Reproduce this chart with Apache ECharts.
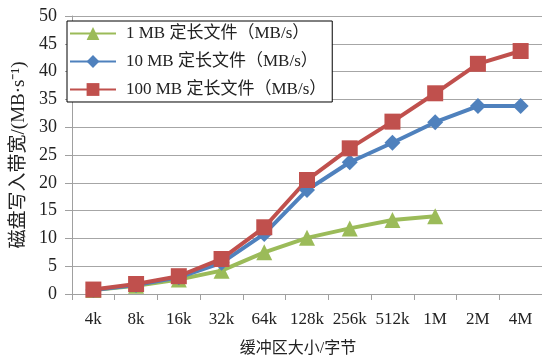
<!DOCTYPE html>
<html>
<head>
<meta charset="utf-8">
<script src="https://cdn.jsdelivr.net/npm/echarts@6/dist/echarts.min.js"></script>
<style>html,body{margin:0;padding:0;background:#fff;}#c{width:542px;height:362px;}</style>
</head>
<body>
<div id="c"></div>
<script>
const categories = ['4k','8k','16k','32k','64k','128k','256k','512k','1M','2M','4M'];
const yTicks = [0,5,10,15,20,25,30,35,40,45,50];
const seriesNames = ['1 MB 定长文件（MB/s）','10 MB 定长文件（MB/s）','100 MB 定长文件（MB/s）'];
const mb1 = [0.7, 1.5, 2.6, 4.2, 7.5, 10.1, 11.8, 13.3, 14.0, null, null];
const mb10 = [0.7, 1.6, 3.0, 5.6, 10.8, 18.7, 23.7, 27.2, 30.9, 33.8, 33.8];
const mb100 = [0.8, 1.8, 3.2, 6.3, 12.0, 20.5, 26.2, 31.0, 36.1, 41.4, 43.7];

const FONT = "'Liberation Serif', 'Noto Sans CJK SC', serif";
const chart = echarts.init(document.getElementById('c'), null, {renderer:'canvas'});
const colors = ['#9BBB59','#4F81BD','#C0504D'];
chart.setOption({
  animation:false,
  backgroundColor:'#fff',
  color: colors,
  grid:{left:72, top:16, width:473, height:285, containLabel:false},
  legend:{
    orient:'vertical', left:67, top:21,
    backgroundColor:'#fff', borderColor:'#000', borderWidth:1,
    padding:[4,6,4,2], itemGap:11, itemWidth:46, itemHeight:16,
    textStyle:{fontFamily:FONT, fontSize:17, color:'#222', padding:[0,0,0,5]},
    data: seriesNames
  },
  xAxis:{
    type:'category', data:categories, boundaryGap:true,
    axisLine:{show:true, lineStyle:{color:'#a0a0a0', width:1}},
    axisTick:{show:true, length:6, lineStyle:{color:'#a0a0a0'}},
    axisLabel:{fontFamily:FONT, fontSize:17, color:'#222', margin:17, interval:0},
    name:'缓冲区大小/字节', nameLocation:'middle', nameGap:47,
    nameTextStyle:{fontFamily:FONT, fontSize:16, color:'#222', padding:[0,18,0,0]}
  },
  yAxis:{
    type:'value', min:yTicks[0], max:yTicks[yTicks.length-1], interval:5,
    axisLine:{show:true, lineStyle:{color:'#a0a0a0', width:1}},
    axisTick:{show:true, length:7, lineStyle:{color:'#a0a0a0'}},
    axisLabel:{fontFamily:FONT, fontSize:18, color:'#222', margin:15},
    splitLine:{show:true, lineStyle:{color:'#a6a6a6', width:1}},
    name:'磁盘写入带宽/(MB·s⁻¹)', nameLocation:'middle', nameRotate:90, nameGap:40,
    nameTextStyle:{fontFamily:FONT, fontSize:19, color:'#222'}
  },
  series:[
    {name:seriesNames[0], type:'line', data:mb1, symbol:'triangle', symbolSize:16,
     lineStyle:{width:4}, itemStyle:{color:colors[0]}},
    {name:seriesNames[1], type:'line', data:mb10, symbol:'diamond', symbolSize:16,
     lineStyle:{width:4}, itemStyle:{color:colors[1]}},
    {name:seriesNames[2], type:'line', data:mb100, symbol:'rect', symbolSize:16,
     lineStyle:{width:4}, itemStyle:{color:colors[2]}}
  ]
});
</script>
</body>
</html>
